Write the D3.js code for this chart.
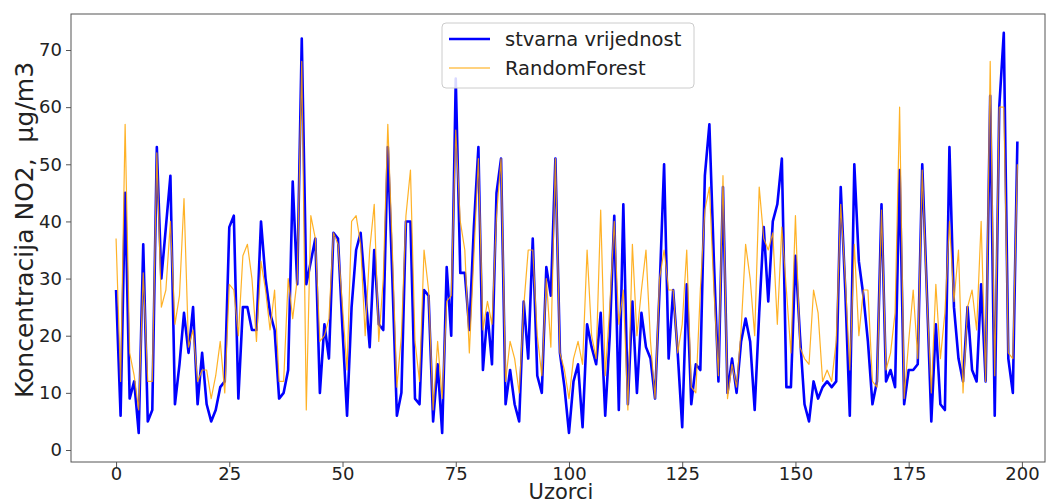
<!DOCTYPE html>
<html><head><meta charset="utf-8">
<script src="https://cdn.jsdelivr.net/npm/d3@7"></script>
<style>body{margin:0;background:#fff}svg{display:block;font-family:"DejaVu Sans",sans-serif}</style>
</head><body><div id="c"></div>
<script>
const actual = [28,6,45,9,12,3,36,5,7,53,30,39,48,8,15,24,17,25,8,17,
8,5,7,11,12,39,41,9,25,25,21,21,40,30,24,21,9,10,14,47,
29,72,29,33,37,10,22,16,38,37,21,6,25,35,38,28,18,35,22,21,
53,30,6,10,40,40,9,8,28,27,5,15,3,32,20,65,31,31,21,39,
53,14,24,15,45,51,8,14,8,5,26,16,37,13,10,32,27,51,17,11,
3,12,15,4,22,18,15,24,6,20,41,7,43,8,26,10,24,18,16,9,
28,50,16,28,17,4,29,8,15,14,48,57,33,12,46,10,16,10,19,23,
19,7,24,39,26,40,43,51,11,11,34,20,8,5,12,9,11,12,11,12,
46,28,6,50,33,27,19,8,12,43,12,14,11,49,8,14,14,15,50,28,
5,22,8,7,53,25,16,12,25,14,12,29,12,62,6,60,73,16,10,54];
const randomForest = [37,12,57,17,13,7,31,12,12,52,25,28,40,22,27,44,18,21,12,14,
14,9,13,19,10,29,28,20,34,36,30,19,33,28,21,28,12,12,30,23,
30,68,7,41,37,19,20,23,38,36,25,14,40,41,36,20,35,43,19,30,
57,35,11,20,41,49,19,12,35,28,7,19,9,26,27,56,40,35,17,34,
51,21,26,22,41,51,12,19,16,10,25,35,35,20,13,30,18,51,17,14,
9,16,19,15,35,20,16,42,13,25,40,22,28,7,36,20,28,35,19,9,
30,35,28,28,17,22,35,11,10,28,42,46,28,13,48,9,15,11,21,36,
30,20,46,37,35,38,22,39,28,17,41,18,16,15,28,24,12,14,12,19,
43,30,14,36,20,28,28,12,11,42,14,17,24,60,9,19,28,16,49,27,
10,29,16,24,40,26,35,10,25,28,21,40,12,68,13,60,60,17,16,50];
const xTicks = [0,25,50,75,100,125,150,175,200];
const yTicks = [0,10,20,30,40,50,60,70];
const seriesNames = ["stvarna vrijednost","RandomForest"];
const xLabel = "Uzorci";
const yLabel = "Koncentracija NO2,  µg/m3";

const W=1053,H=504, L=71,R=1045,T=14,B=462;
const svg=d3.select("#c").append("svg").attr("width",W).attr("height",H);
const x=d3.scaleLinear().domain([-9.95,205.1]).range([L,R]);
const y=d3.scaleLinear().domain([-2.1,76.3]).range([B,T]);

svg.append("clipPath").attr("id","cp").append("rect").attr("x",L).attr("y",T).attr("width",R-L).attr("height",B-T);
const g=svg.append("g").attr("clip-path","url(#cp)");
const line=d3.line().x((d,i)=>x(i)).y(d=>y(d));
g.append("path").datum(actual).attr("d",line).attr("fill","none").attr("stroke","#0000ff").attr("stroke-width",2.6).attr("stroke-linejoin","round");
g.append("path").datum(randomForest).attr("d",line).attr("fill","none").attr("stroke","#ffa500").attr("stroke-width",1.2).attr("stroke-opacity",0.85).attr("stroke-linejoin","round");

svg.append("rect").attr("x",L).attr("y",T).attr("width",R-L).attr("height",B-T).attr("fill","none").attr("stroke","#555").attr("stroke-width",1);

const xa=svg.append("g").attr("transform",`translate(0,${B})`).call(d3.axisBottom(x).tickValues(xTicks).tickSize(5).tickPadding(0).tickFormat(d3.format("d")));
const ya=svg.append("g").attr("transform",`translate(${L},0)`).call(d3.axisLeft(y).tickValues(yTicks).tickSize(5).tickPadding(4).tickFormat(d3.format("d")));
[xa,ya].forEach(a=>{a.select(".domain").remove();a.selectAll("line").attr("stroke","#555");a.selectAll("text").attr("font-size",18).attr("fill","#222").attr("font-family","DejaVu Sans");});

svg.append("text").attr("x",(L+R)/2 + 3).attr("y",499).attr("text-anchor","middle").attr("font-size",21).attr("fill","#222").text(xLabel);
svg.append("text").attr("transform","translate(33,230) rotate(-90)").attr("text-anchor","middle").attr("font-size",25).attr("fill","#222").style("white-space","pre").text(yLabel);

const lg=svg.append("g");
lg.append("rect").attr("x",442).attr("y",23).attr("width",252).attr("height",65).attr("rx",4).attr("fill","#fff").attr("fill-opacity",0.85).attr("stroke","#ccc");
const lcol=["#0000ff","#ffa500"], lw=[2.6,1.2];
seriesNames.forEach((n,i)=>{
  const yy=39+i*29;
  lg.append("line").attr("x1",449).attr("x2",490).attr("y1",yy).attr("y2",yy).attr("stroke",lcol[i]).attr("stroke-width",lw[i]);
  lg.append("text").attr("x",505).attr("y",yy+7).attr("font-size",19.5).attr("fill","#222").text(n);
});
</script></body></html>
